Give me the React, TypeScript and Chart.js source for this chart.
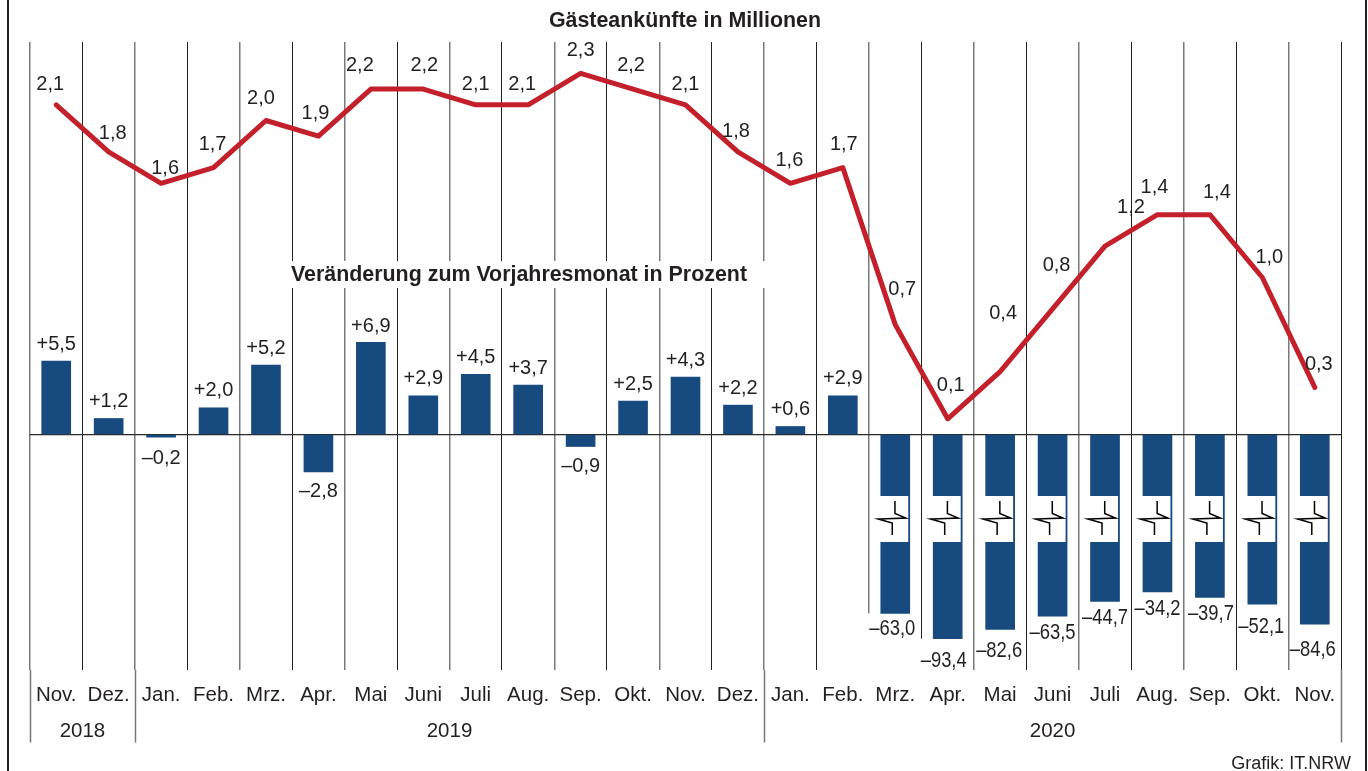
import React, { useEffect, useRef } from "react";
import { Chart, registerables } from "chart.js";

Chart.register(...registerables);

const months = ["Nov.", "Dez.", "Jan.", "Feb.", "Mrz.", "Apr.", "Mai", "Juni", "Juli", "Aug.", "Sep.", "Okt.", "Nov.", "Dez.", "Jan.", "Feb.", "Mrz.", "Apr.", "Mai", "Juni", "Juli", "Aug.", "Sep.", "Okt.", "Nov."];
const years = ["2018", "2019", "2020"];
const yearSpans = [2, 12, 11];
const arrivals = [2.1, 1.8, 1.6, 1.7, 2.0, 1.9, 2.2, 2.2, 2.1, 2.1, 2.3, 2.2, 2.1, 1.8, 1.6, 1.7, 0.7, 0.1, 0.4, 0.8, 1.2, 1.4, 1.4, 1.0, 0.3];
const change = [5.5, 1.2, -0.2, 2.0, 5.2, -2.8, 6.9, 2.9, 4.5, 3.7, -0.9, 2.5, 4.3, 2.2, 0.6, 2.9, -63.0, -93.4, -82.6, -63.5, -44.7, -34.2, -39.7, -52.1, -84.6];
// Bar length as read on the picture's broken axis (the deep bars are cut short).
const brokenAxisChange = [5.5, 1.2, -0.2, 2.0, 5.2, -2.8, 6.9, 2.9, 4.5, 3.7, -0.9, 2.5, 4.3, 2.2, 0.6, 2.9, -13.4, -15.3, -14.6, -13.6, -12.5, -11.8, -12.2, -12.7, -14.2];

// Label nudges relative to the marks (style only)
const arrivalLabelNudge = [[-6, -20.5], [4, -18.5], [4, -14.5], [-1, -23.5], [-5, -22.5], [-3, -22.5], [-11, -23.5], [1, -23.5], [0, -20.5], [-6, -20.5], [0, -22.5], [-2, -23.5], [0, -20.5], [-2, -20.5], [-1, -22.5], [1, -23.5], [7, -35.5], [3, -33.5], [3, -58.5], [4, -43.5], [26, -38.5], [-3, -27.5], [7, -22.5], [7, -20.5], [4, -22.5]];
const changeLabelNudge = [[0, -17], [0, -17], [0, 21], [0, -17], [0, -17], [0, 20], [0, -16], [0, -17], [0, -17], [0, -17], [0, 20], [0, -17], [0, -17], [0, -17], [0, -17], [0, -17], [-3, 15], [-4, 22], [-1, 21], [0, 17], [0, 16], [0, 17], [1, 16], [-1, 23], [-2, 26]];
const gridCutAtBar = [16, 17];

const INK = "#231f20";
const FONT = '"Liberation Sans", Arial, sans-serif';
const PER_UNIT_BAR = 13.35;

const fmtPlain = (v: number) => v.toFixed(1).replace(".", ",");
const fmtSigned = (v: number) => (v < 0 ? "\u2013" : "+") + Math.abs(v).toFixed(1).replace(".", ",");

const decor = {
  id: "decor",
  beforeDatasetsDraw(chart: any) {
    const { ctx, chartArea, scales } = chart;
    const x = scales.x;
    const yb = scales.yBar;
    const step = x.width / months.length;
    ctx.save();
    ctx.fillStyle = "#ffffff";
    // gap in the grid behind the second heading
    ctx.fillRect(286, 261, 483, 27);
    // grid lines that stop where the deep bars' labels begin
    gridCutAtBar.forEach((i) => {
      const gx = x.left + i * step;
      const end = yb.getPixelForValue(brokenAxisChange[i]);
      ctx.fillRect(gx - 2, end, 4, chartArea.bottom - end + 1);
    });
    // year separators below the plot
    let acc = 0;
    const seps = [0, ...yearSpans.map((s) => (acc += s))];
    ctx.strokeStyle = "#777777";
    ctx.lineWidth = 1.5;
    seps.forEach((s) => {
      const px = Math.round(x.left + s * step) + 0.5;
      ctx.beginPath();
      ctx.moveTo(px, chartArea.bottom);
      ctx.lineTo(px, 742.5);
      ctx.stroke();
    });
    // frame
    ctx.fillStyle = INK;
    ctx.fillRect(7, 0, 2, 771);
    ctx.fillRect(1365, 0, 2, 771);
    ctx.restore();
  },
  afterDatasetsDraw(chart: any) {
    const { ctx, scales } = chart;
    const x = scales.x;
    const yl = scales.yLine;
    const yb = scales.yBar;
    const step = x.width / months.length;
    ctx.save();
    ctx.textAlign = "center";
    ctx.textBaseline = "middle";

    // axis breaks in the deep bars
    brokenAxisChange.forEach((v, i) => {
      if (change[i] === v) return;
      const cx = x.getPixelForValue(i);
      ctx.fillStyle = "#ffffff";
      ctx.fillRect(cx - 16, 496, 29, 46);
      const gx = cx - 3;
      const gy = 518;
      ctx.strokeStyle = "#000000";
      ctx.lineWidth = 1.5;
      ctx.lineJoin = "miter";
      ctx.beginPath();
      ctx.moveTo(gx + 2.7, gy - 17);
      ctx.lineTo(gx + 2.7, gy - 4.5);
      ctx.lineTo(gx + 13.5, gy);
      ctx.lineTo(gx - 14, gy + 1);
      ctx.lineTo(gx, gy + 5);
      ctx.lineTo(gx, gy + 17);
      ctx.stroke();
    });

    ctx.fillStyle = INK;
    ctx.font = `20px ${FONT}`;
    arrivals.forEach((v, i) => {
      const [dx, dy] = arrivalLabelNudge[i];
      ctx.fillText(fmtPlain(v), x.getPixelForValue(i) + dx, yl.getPixelForValue(v) + dy);
    });
    change.forEach((v, i) => {
      const [dx, dy] = changeLabelNudge[i];
      const deep = change[i] !== brokenAxisChange[i];
      const px = x.getPixelForValue(i) + dx;
      const py = yb.getPixelForValue(brokenAxisChange[i]) + dy;
      if (deep) {
        ctx.font = `22.5px ${FONT}`;
        ctx.fillText(fmtSigned(v), px, py, 46);
      } else {
        ctx.font = `20px ${FONT}`;
        ctx.fillText(fmtSigned(v), px, py);
      }
    });

    // year labels
    ctx.font = `20.5px ${FONT}`;
    let start = 0;
    years.forEach((yr, i) => {
      ctx.fillText(yr, x.left + (start + yearSpans[i] / 2) * step, 731);
      start += yearSpans[i];
    });

    // headings and source
    ctx.font = `bold 21.4px ${FONT}`;
    ctx.fillText("Gästeankünfte in Millionen", 685, 21.5);
    ctx.fillText("Veränderung zum Vorjahresmonat in Prozent", 519, 275.5);
    ctx.font = `18px ${FONT}`;
    ctx.textAlign = "right";
    ctx.fillText("Grafik: IT.NRW", 1351, 764);
    ctx.restore();
  },
};

export default function App() {
  const ref = useRef<HTMLCanvasElement>(null);
  useEffect(() => {
    const chart = new Chart(ref.current as HTMLCanvasElement, {
      type: "bar",
      data: {
        labels: months,
        datasets: [
          {
            type: "line",
            label: "Gästeankünfte in Millionen",
            data: arrivals,
            yAxisID: "yLine",
            borderColor: "#c4202c",
            borderWidth: 5,
            borderCapStyle: "round",
            borderJoinStyle: "round",
            tension: 0,
            pointRadius: 0,
            fill: false,
            order: 0,
          },
          {
            type: "bar",
            label: "Veränderung zum Vorjahresmonat in Prozent",
            data: brokenAxisChange,
            yAxisID: "yBar",
            backgroundColor: "#174a7e",
            barThickness: 29,
            order: 1,
          },
        ],
      } as any,
      options: {
        responsive: false,
        animation: false,
        layout: { padding: { left: 30, right: 27, top: 42, bottom: 0 } },
        plugins: { legend: { display: false }, tooltip: { enabled: false }, title: { display: false } },
        scales: {
          x: {
            offset: true,
            border: { display: false },
            grid: {
              offset: true,
              drawTicks: false,
              lineWidth: (c: any) => (c.index % 2 === 0 ? 1.5 : 1),
              color: (c: any) => (c.index % 2 === 0 ? "#7a7a7a" : "#222222"),
            },
            ticks: {
              color: INK,
              font: { family: FONT, size: 20.5 },
              padding: 13,
              autoSkip: false,
              maxRotation: 0,
              minRotation: 0,
            },
            afterFit(scale: any) {
              scale.height = 101;
            },
          },
          yLine: {
            position: "left",
            min: -1.5,
            max: 2.5,
            display: true,
            border: { display: false },
            grid: { display: false, drawTicks: false },
            ticks: { display: false },
            afterFit(scale: any) {
              scale.width = 0;
            },
          },
          yBar: {
            position: "right",
            min: -235.5 / PER_UNIT_BAR,
            max: 392.5 / PER_UNIT_BAR,
            display: true,
            border: { display: false },
            grid: { drawTicks: false, color: "#2a2a2a", lineWidth: 1.3 },
            ticks: { display: false },
            afterBuildTicks(scale: any) {
              scale.ticks = [{ value: 0 }];
            },
            afterFit(scale: any) {
              scale.width = 0;
            },
          },
        },
      } as any,
      plugins: [decor],
    });
    return () => chart.destroy();
  }, []);
  return (
    <div style={{ position: "fixed", left: 0, top: 0, width: 1368, height: 771, background: "#ffffff", overflow: "hidden" }}>
      <canvas ref={ref} width={1368} height={771} style={{ display: "block" }} />
    </div>
  );
}
